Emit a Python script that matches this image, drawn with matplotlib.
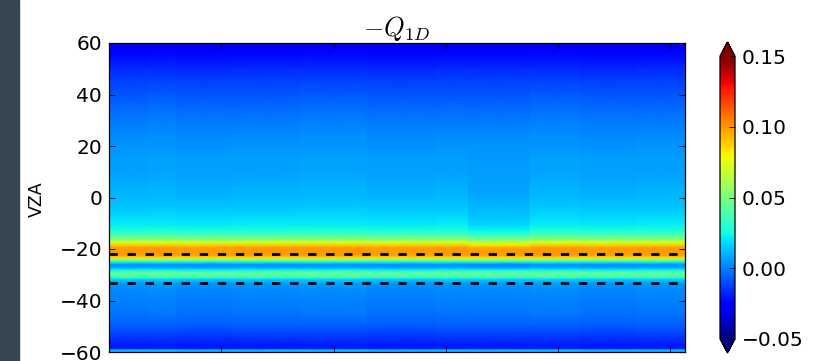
import numpy as np
import matplotlib.pyplot as plt
from matplotlib.patches import Rectangle
from matplotlib.ticker import FuncFormatter

plt.rcParams['mathtext.fontset'] = 'cm'

# viewing zenith angle levels and the -Q_1D profile
vza = [60, 57, 54, 50, 45, 40, 35, 30, 25, 20, 15, 10, 5, 0, -4, -8, -11, -13,
       -15, -16.5, -17.5, -18.5, -19.5, -21, -22.5, -23.5, -24.3, -25, -26,
       -27, -28, -29, -30, -31, -32, -33.5, -36, -40, -45, -50, -54, -57,
       -58.8, -59.3, -60]
q1d = [-0.030, -0.027, -0.022, -0.017, -0.012, -0.008, -0.004, -0.001, 0.002,
       0.004, 0.006, 0.007, 0.009, 0.011, 0.014, 0.018, 0.022, 0.028,
       0.040, 0.055, 0.072, 0.088, 0.097, 0.100, 0.098, 0.085, 0.055, 0.025,
       0.005, 0.004, 0.020, 0.040, 0.042, 0.035, 0.015, 0.005, 0.002, 0.000,
       -0.002, -0.007, -0.014, -0.019, -0.021, 0.012, 0.012]

# column blocks (sample index) with faint striping
col_edges = [0, 35, 60, 110, 170, 230, 290, 320, 375, 420, 470, 513]
col_shift = [0.0, 0.0005, -0.0005, 0.0, 0.0005, -0.0005, 0.0, 0.0, 0.0005,
             -0.0005, 0.0]

# the slightly bluer patch around columns 320-375
block_idx = 7
block_dv = [0, 0, 0, 0, 0, 0, 0, 0, 0, 0, -0.001, -0.001, -0.002, -0.003,
            -0.003, -0.004, -0.004, -0.004, -0.005, -0.005, -0.006, -0.005,
            -0.003, 0, 0, 0, 0, 0, -0.002, -0.002, 0, 0, 0, 0, 0, 0, 0, 0,
            0, 0, 0, 0, 0, 0, 0]

dashed_vza = [-22, -33.3]


def minus_fmt(x, pos):
    return f'{x:.2f}'.replace('-', '\u2212')


def main():
    prof = np.array(q1d)
    xs, cols = [], []
    for k in range(len(col_edges) - 1):
        col = prof + col_shift[k]
        if k == block_idx:
            col = col + np.array(block_dv)
        for x in (col_edges[k] + 0.5, col_edges[k + 1] - 0.5):
            xs.append(x)
            cols.append(col)
    Z = np.array(cols).T
    X, Y = np.meshgrid(xs, vza)

    fig = plt.figure(figsize=(8.14, 3.61), dpi=100)
    fig.add_artist(Rectangle((0, 0), 19 / 814, 1, transform=fig.transFigure,
                             color='#36454f', zorder=0))

    ax = fig.add_axes([109 / 814, 9 / 361, 576 / 814, 309 / 361])
    mesh = ax.pcolormesh(X, Y, Z, shading='gouraud', cmap='jet',
                         vmin=-0.05, vmax=0.15)
    for v in dashed_vza:
        ax.axhline(v, color='k', ls=(0, (3, 3.5)), lw=2)

    ax.set_xlim(0, 513)
    ax.set_ylim(-60, 60)
    ax.set_yticks(range(-60, 61, 20))
    ax.set_xticks(range(0, 513, 100))
    ax.tick_params(direction='in', top=True, right=True, labelbottom=False,
                   labelsize=14.5, pad=5, length=4, width=0.6)
    for s in ax.spines.values():
        s.set_linewidth(0.9)
    ax.set_title(r'$-Q_{1D}$', fontsize=19, pad=2)
    fig.text(37 / 814, (361 - 199) / 361, 'VZA', rotation=90,
             ha='center', va='center', fontsize=12.5)

    cax = fig.add_axes([720 / 814, 8 / 361, 15 / 814, 311 / 361])
    cb = fig.colorbar(mesh, cax=cax, extend='both',
                      ticks=[-0.05, 0.0, 0.05, 0.10, 0.15],
                      format=FuncFormatter(minus_fmt))
    cb.ax.tick_params(labelsize=14.5, direction='in', pad=5, length=4, width=0.6)
    cb.outline.set_linewidth(0.9)

    fig.savefig('out.png', dpi=100)


if __name__ == '__main__':
    main()
